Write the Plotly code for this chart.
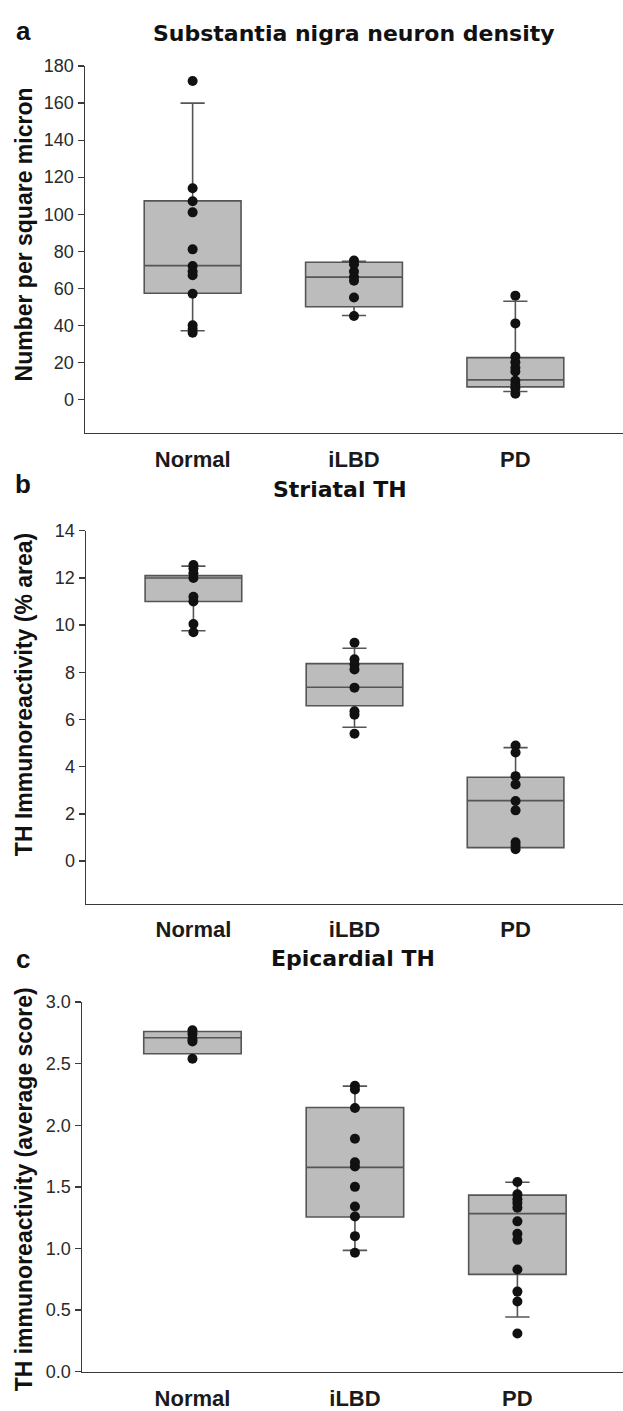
import plotly.graph_objects as go

categories = ["Normal", "iLBD", "PD"]

# Panel a: Substantia nigra neuron density
sn_normal = [172, 114, 107, 101, 81, 72, 69, 67, 57, 40, 38, 36]
sn_ilbd = [75, 73, 69, 66, 64, 55, 45]
sn_pd = [56, 41, 23, 20, 17, 15, 10, 8, 6, 3]
sn_q1 = [57.3, 50.0, 6.7]
sn_median = [72.2, 66.0, 10.5]
sn_q3 = [107.2, 74.0, 22.5]
sn_lower = [37.0, 45.3, 4.2]
sn_upper = [160.0, 74.5, 53.0]

# Panel b: Striatal TH
st_normal = [12.55, 12.4, 12.2, 12.0, 11.2, 11.0, 10.05, 9.7]
st_ilbd = [9.25, 8.55, 8.33, 8.12, 7.35, 6.35, 6.2, 5.4]
st_pd = [4.9, 4.6, 3.6, 3.25, 2.55, 2.15, 0.8, 0.65, 0.5]
st_q1 = [11.0, 6.58, 0.57]
st_median = [12.0, 7.37, 2.56]
st_q3 = [12.1, 8.37, 3.55]
st_lower = [9.76, 5.67, 0.57]
st_upper = [12.5, 9.02, 4.81]

# Panel c: Epicardial TH
ep_normal = [2.77, 2.74, 2.70, 2.68, 2.54]
ep_ilbd = [2.32, 2.29, 2.14, 1.89, 1.70, 1.665, 1.50, 1.34, 1.26, 1.10, 0.965]
ep_pd = [1.54, 1.44, 1.40, 1.37, 1.33, 1.22, 1.12, 1.07, 0.83, 0.65, 0.57, 0.31]
ep_q1 = [2.58, 1.256, 0.79]
ep_median = [2.71, 1.658, 1.283]
ep_q3 = [2.76, 2.144, 1.433]
ep_lower = [2.58, 0.985, 0.444]
ep_upper = [2.76, 2.317, 1.537]

titles = ["Substantia nigra neuron density", "Striatal TH", "Epicardial TH"]
ytitles = ["Number per square micron", "TH Immunoreactivity (% area)",
           "TH immunoreactivity (average score)"]
letters = ["a", "b", "c"]

W, H = 623, 1411
BOX_FILL = "#bcbcbc"
BOX_LINE = "#555555"
AXIS_COL = "#3a3a3a"
DOT_COL = "#111111"

panels = [
    dict(pts=[sn_normal, sn_ilbd, sn_pd], q1=sn_q1, med=sn_median, q3=sn_q3,
         lo=sn_lower, hi=sn_upper, yr=[-18, 180], dt=20, fmt="d",
         top=57, bot=429.3, left=85, xr=[-0.667, 2.667]),
    dict(pts=[st_normal, st_ilbd, st_pd], q1=st_q1, med=st_median, q3=st_q3,
         lo=st_lower, hi=st_upper, yr=[-1.8, 14], dt=2, fmt="d",
         top=529, bot=907.7, left=86, xr=[-0.667, 2.667]),
    dict(pts=[ep_normal, ep_ilbd, ep_pd], q1=ep_q1, med=ep_median, q3=ep_q3,
         lo=ep_lower, hi=ep_upper, yr=[0, 3], dt=0.5, fmt=".1f",
         top=1007.7, bot=1383.3, left=82, xr=[-0.68, 2.65]),
]

fig = go.Figure()
layout = {}
for i, p in enumerate(panels):
    n = "" if i == 0 else str(i + 1)
    xa, ya = "x" + n, "y" + n
    fig.add_trace(go.Box(
        x=categories, q1=p["q1"], median=p["med"], q3=p["q3"],
        lowerfence=p["lo"], upperfence=p["hi"], boxpoints=False,
        width=0.6, whiskerwidth=0.25, fillcolor=BOX_FILL,
        line=dict(color=BOX_LINE, width=1.6), xaxis=xa, yaxis=ya,
        showlegend=False, hoverinfo="skip"))
    xs, ys = [], []
    for c, vals in zip(categories, p["pts"]):
        xs += [c] * len(vals)
        ys += vals
    fig.add_trace(go.Scatter(
        x=xs, y=ys, mode="markers", xaxis=xa, yaxis=ya, showlegend=False,
        hoverinfo="skip",
        marker=dict(color=DOT_COL, size=10, line=dict(width=0))))
    layout["xaxis" + n] = dict(
        domain=[p["left"] / W, 1], range=p["xr"], anchor=ya,
        type="category", categoryorder="array", categoryarray=categories,
        showline=True, linecolor=AXIS_COL, linewidth=1.5, ticks="",
        showgrid=False, zeroline=False, ticklabelstandoff=6,
        tickfont=dict(family="Liberation Sans", size=22, color="#1a1a1a",
                      weight="bold"))
    layout["yaxis" + n] = dict(
        domain=[1 - p["bot"] / H, 1 - p["top"] / H], range=p["yr"],
        anchor=xa, showline=True, linecolor=AXIS_COL, linewidth=1.5,
        ticks="outside", ticklen=6, tickcolor=AXIS_COL, tickwidth=1.3,
        tick0=0, dtick=p["dt"], tickformat=p["fmt"], showgrid=False,
        zeroline=False,
        tickfont=dict(family="Liberation Sans", size=18, color="#2a2a2a"))

annotations = []
title_pos = [(354, 23.5), (340, 487), (353, 964)]
ytitle_pos = [228, 696, 1198]
letter_pos = [(23, 21), (23, 482), (23, 964)]
for i in range(3):
    tx, ty = title_pos[i]
    annotations.append(dict(
        text=titles[i], xref="paper", yref="paper", x=tx / W, y=1 - ty / H,
        xanchor="center", yanchor="middle", showarrow=False,
        font=dict(family="DejaVu Sans", size=22, color="#111111",
                  weight="bold")))
    annotations.append(dict(
        text=ytitles[i], xref="paper", yref="paper", x=24 / W,
        y=1 - ytitle_pos[i] / H, xanchor="center", yanchor="middle",
        textangle=-90, showarrow=False,
        font=dict(family="Liberation Sans", size=23, color="#111111",
                  weight="bold")))
    lx, ly = letter_pos[i]
    annotations.append(dict(
        text=letters[i], xref="paper", yref="paper", x=lx / W, y=1 - ly / H,
        xanchor="center", yanchor="middle", showarrow=False,
        font=dict(family="Liberation Sans", size=26, color="#111111",
                  weight="bold")))

fig.update_layout(
    width=W, height=H, margin=dict(l=0, r=0, t=0, b=0, pad=0),
    paper_bgcolor="white", plot_bgcolor="white", hovermode=False,
    annotations=annotations, **layout)

fig.write_html("out.html",
               config={"displayModeBar": False, "staticPlot": True},
               post_script="document.body.style.margin='0';"
                           "document.body.style.overflow='hidden';")
